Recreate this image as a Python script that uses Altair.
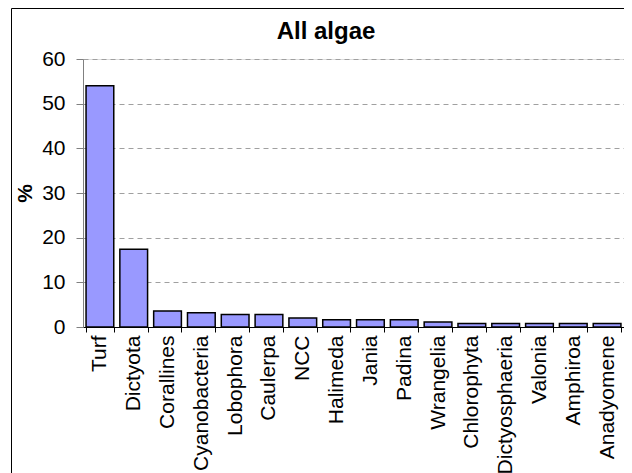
import altair as alt
import pandas as pd

categories = ["Turf", "Dictyota", "Corallines", "Cyanobacteria", "Lobophora", "Caulerpa",
              "NCC", "Halimeda", "Jania", "Padina", "Wrangelia", "Chlorophyta",
              "Dictyosphaeria", "Valonia", "Amphiroa", "Anadyomene"]
values = [54.0, 17.4, 3.6, 3.2, 2.8, 2.8, 2.0, 1.6, 1.6, 1.6, 1.1, 0.8, 0.8, 0.8, 0.8, 0.8]
y_ticks = [0, 10, 20, 30, 40, 50, 60]
chart_title = "All algae"

df = pd.DataFrame({"category": categories, "value": values})
one = pd.DataFrame({"k": [0]})

FONT = "Liberation Sans"

top_line = alt.Chart(one).mark_rule(color="black", strokeWidth=1).encode(
    x=alt.value(-71.5), x2=alt.value(600), y=alt.value(-50.5)
)
left_line = alt.Chart(one).mark_rule(color="black", strokeWidth=1).encode(
    x=alt.value(-71.5), y=alt.value(-50.5), y2=alt.value(500)
)
title = alt.Chart(one).mark_text(font=FONT, fontSize=24, fontWeight="bold", color="black",
                                 align="center", baseline="middle").encode(
    x=alt.value(243), y=alt.value(-27), text=alt.value(chart_title)
)

bars = alt.Chart(df).mark_bar(color="#9999FF", stroke="black", strokeWidth=1.5).encode(
    x=alt.X("category:N", sort=categories,
            scale=alt.Scale(paddingInner=0.18, paddingOuter=0.09),
            axis=alt.Axis(title=None, labelAngle=-90, labelFont=FONT, labelFontSize=21,
                          labelColor="black", labelPadding=3, tickSize=5, tickColor="black",
                          domainColor="black", tickBand="extent", labelOverlap=False)),
    y=alt.Y("value:Q", scale=alt.Scale(domain=[0, 60], nice=False),
            axis=alt.Axis(title="%", values=y_ticks, labelFont=FONT, labelFontSize=21,
                          labelColor="black", labelPadding=11, tickSize=7, tickColor="#808080",
                          domainColor="#808080", titleFont=FONT, titleFontSize=21,
                          titleFontWeight="bold", titleColor="black", titleAngle=-90,
                          titleX=-58, titleY=134, titleAlign="center", titleBaseline="middle",
                          grid=True, gridDash=[5, 4], gridColor="#A0A0A0", gridWidth=1)),
)

chart = alt.layer(top_line, left_line, title, bars).properties(
    width=541, height=268,
    padding={"left": 75, "top": 51, "right": 0, "bottom": 146},
    autosize="none",
).configure_view(strokeWidth=0).configure(background="white")

chart.save("out.html", embed_options={"renderer": "svg", "actions": False})
